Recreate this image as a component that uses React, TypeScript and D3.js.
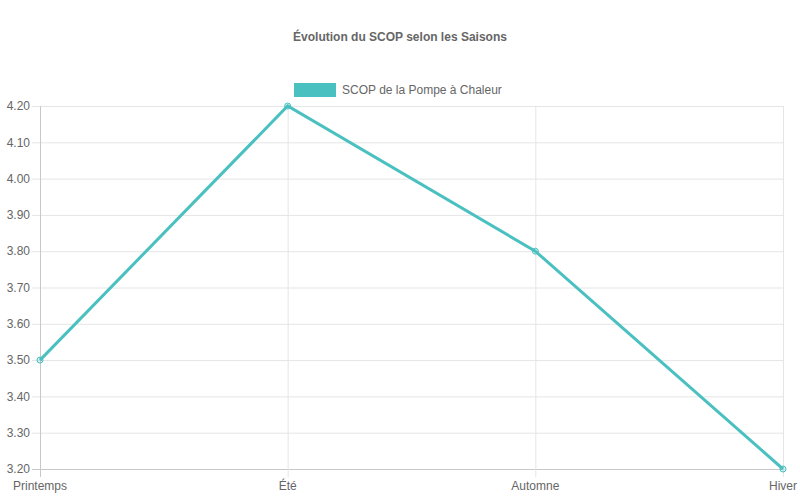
import React, { useEffect, useRef } from "react";
import { select, scalePoint, scaleLinear, line, range } from "d3";

const seasons = ["Printemps", "Été", "Automne", "Hiver"];
const scopValues = [3.5, 4.2, 3.8, 3.2];
const yTicks = range(0, 11).map((i) => +(3.2 + i * 0.1).toFixed(2));

const title = "Évolution du SCOP selon les Saisons";
const seriesName = "SCOP de la Pompe à Chaleur";

export default function App(): JSX.Element {
    const ref = useRef<SVGSVGElement>(null);

    useEffect(() => {
        const width = 800;
        const height = 500;
        const m = { left: 40, right: 17, top: 106, bottom: 31 };
        const color = "#4bc0c0";
        const font = "'Liberation Sans', Arial, sans-serif";

        const svg = select(ref.current).attr("width", width).attr("height", height);
        svg.selectAll("*").remove();

        const x = scalePoint<string>().domain(seasons).range([m.left, width - m.right]);
        const y = scaleLinear().domain([3.2, 4.2]).range([height - m.bottom, m.top]);

        // grid
        const grid = svg.append("g");
        grid.selectAll("line.h")
            .data(yTicks)
            .join("line")
            .attr("x1", m.left - 8)
            .attr("x2", width - m.right)
            .attr("y1", (d) => y(d) + 0.5)
            .attr("y2", (d) => y(d) + 0.5)
            .attr("stroke", (d) => (d === 3.2 ? "#c8c8c8" : "#e5e5e5"));
        grid.selectAll("line.v")
            .data(seasons)
            .join("line")
            .attr("x1", (d) => (x(d) as number) + 0.5)
            .attr("x2", (d) => (x(d) as number) + 0.5)
            .attr("y1", m.top)
            .attr("y2", height - m.bottom + 8)
            .attr("stroke", (d, i) => (i === 0 ? "#c8c8c8" : "#e5e5e5"));

        // y labels
        svg.append("g")
            .selectAll("text")
            .data(yTicks)
            .join("text")
            .attr("x", m.left - 10)
            .attr("y", (d) => y(d))
            .attr("dy", "0.35em")
            .attr("text-anchor", "end")
            .attr("font-family", font)
            .attr("font-size", 12)
            .attr("fill", "#666")
            .text((d) => d.toFixed(2));

        // x labels
        svg.append("g")
            .selectAll("text")
            .data(seasons)
            .join("text")
            .attr("x", (d) => x(d) as number)
            .attr("y", height - m.bottom + 21)
            .attr("text-anchor", "middle")
            .attr("font-family", font)
            .attr("font-size", 12)
            .attr("fill", "#666")
            .text((d) => d);

        // line
        const pts = seasons.map((s, i) => [x(s) as number, y(scopValues[i])] as [number, number]);
        svg.append("path")
            .attr("d", line()(pts))
            .attr("fill", "none")
            .attr("stroke", color)
            .attr("stroke-width", 3);
        svg.append("g")
            .selectAll("circle")
            .data(pts)
            .join("circle")
            .attr("cx", (d) => d[0])
            .attr("cy", (d) => d[1])
            .attr("r", 3)
            .attr("fill", "rgba(75,192,192,0.2)")
            .attr("stroke", color)
            .attr("stroke-width", 1);

        // title
        svg.append("text")
            .attr("x", width / 2)
            .attr("y", 41)
            .attr("text-anchor", "middle")
            .attr("font-family", font)
            .attr("font-size", 12)
            .attr("font-weight", "bold")
            .attr("fill", "#666")
            .text(title);

        // legend
        svg.append("rect")
            .attr("x", 294)
            .attr("y", 83)
            .attr("width", 42)
            .attr("height", 14)
            .attr("fill", color);
        svg.append("text")
            .attr("x", 342)
            .attr("y", 94)
            .attr("font-family", font)
            .attr("font-size", 12)
            .attr("fill", "#666")
            .text(seriesName);
    }, []);

    return (
        <div style={{ position: "absolute", left: 0, top: 0 }}>
            <svg ref={ref} style={{ display: "block" }} />
        </div>
    );
}
